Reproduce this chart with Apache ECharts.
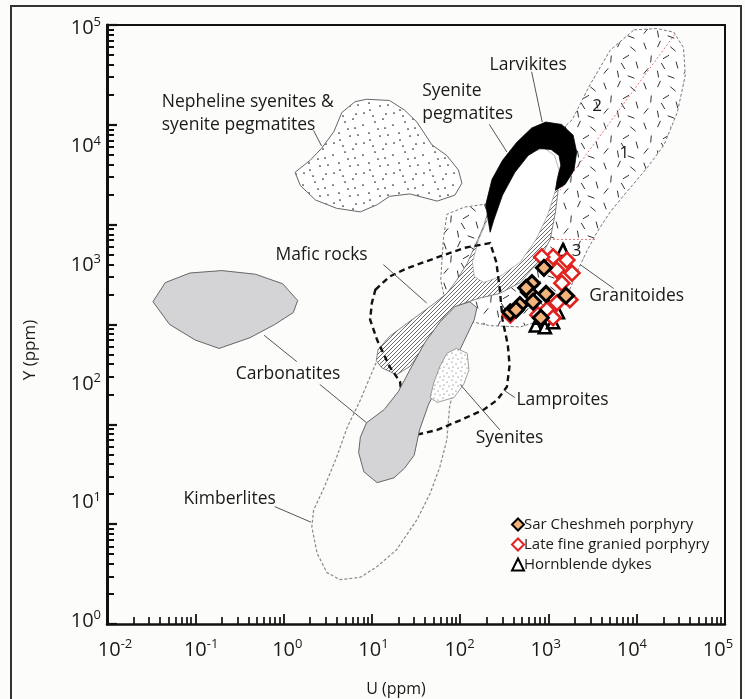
<!DOCTYPE html>
<html>
<head>
<meta charset="utf-8">
<script src="https://cdn.jsdelivr.net/npm/echarts@6/dist/echarts.min.js"></script>
<style>
  html, body { margin: 0; padding: 0; background: #fcfcfa; }
  #chart { width: 745px; height: 699px; }
</style>
</head>
<body>
<div id="chart"></div>
<script>
// ---- Sample data (U ppm, Y ppm) ----
const sarCheshmehU = [890, 650, 600, 940, 475, 670, 370, 1580, 820, 430, 560];
const sarCheshmehY = [940, 700, 590, 570, 460, 490, 400, 550, 360, 420, 640];
const lateFineU = [1130, 1620, 1250, 1850, 1420, 1250, 960, 1130, 840, 760, 370, 1750];
const lateFineY = [1160, 1090, 900, 850, 700, 480, 420, 360, 1160, 380, 380, 510];
const hornblendeU = [1460, 720, 910, 1130, 800, 1280, 990];
const hornblendeY = [1320, 310, 300, 330, 360, 400, 460];

// ---- Axis tick exponents and minor tick multipliers ----
const xExponents = [-2, -1, 0, 1, 2, 3, 4, 5];
const yExponents = [0, 1, 2, 3, 4, 5];
const yTickExponents = [0, 1, 2, 3, 4, 5, 6];
const minorMultipliers = [2, 3, 4, 5, 6, 7, 8, 9];

// ---- Reference fields, vertices as [log10 U, log10 Y] ----
const granitoidField = [[3.97,4.96],[4.23,4.97],[4.42,4.94],[4.53,4.81],[4.55,4.58],[4.46,4.27],[4.31,4.00],[4.12,3.81],[3.89,3.61],[3.70,3.44],[3.55,3.27],[3.44,3.12],[3.33,2.95],[3.19,2.70],[2.99,2.55],[2.68,2.48],[2.34,2.49],[2.02,2.54],[1.84,2.66],[1.78,2.87],[1.81,3.21],[1.85,3.42],[2.05,3.48],[2.34,3.51],[2.68,3.79],[3.02,4.04],[3.27,4.21],[3.47,4.50],[3.70,4.79]];
const granitoidDivide12 = [[4.43,4.92],[3.13,3.62]];
const granitoidDivide3 = [[2.87,3.21],[3.55,3.21]];
const kimberlites = [[1.07,2.22],[0.87,1.87],[0.72,1.64],[0.60,1.39],[0.46,1.14],[0.34,0.95],[0.32,0.81],[0.38,0.59],[0.49,0.43],[0.64,0.37],[0.87,0.39],[1.06,0.48],[1.28,0.62],[1.51,0.87],[1.66,1.09],[1.77,1.31],[1.85,1.54],[1.88,1.81],[1.93,1.98],[1.77,2.19],[1.43,2.22]];
const syenitePegmatites = [[2.34,3.50],[2.27,3.33],[2.20,3.21],[2.08,3.01],[1.96,2.87],[1.85,2.76],[1.66,2.65],[1.40,2.51],[1.20,2.40],[1.07,2.29],[1.05,2.20],[1.11,2.14],[1.28,2.08],[1.43,2.15],[1.51,2.23],[1.66,2.40],[1.79,2.54],[1.91,2.62],[2.05,2.68],[2.22,2.72],[2.45,2.76],[2.68,2.85],[2.88,3.02],[3.02,3.21],[3.08,3.44],[3.11,3.62],[2.96,3.96],[2.56,3.83]];
const pegmatiteCore = [[2.96,3.97],[3.07,3.91],[3.12,3.79],[3.08,3.62],[2.99,3.41],[2.86,3.21],[2.68,3.02],[2.45,2.90],[2.27,2.85],[2.16,2.90],[2.14,3.02],[2.21,3.21],[2.33,3.41],[2.45,3.62],[2.62,3.83],[2.79,3.94]];
const larvikites = [[2.34,3.27],[2.29,3.50],[2.36,3.71],[2.48,3.87],[2.64,4.02],[2.81,4.14],[2.97,4.19],[3.15,4.17],[3.28,4.08],[3.32,3.94],[3.29,3.79],[3.19,3.67],[3.08,3.62],[3.10,3.71],[3.14,3.83],[3.12,3.91],[3.03,3.96],[2.90,3.97],[2.77,3.91],[2.62,3.77],[2.48,3.58],[2.38,3.37]];
const lamproites = [[1.04,2.79],[1.20,2.90],[1.40,2.97],[1.74,3.06],[2.05,3.14],[2.34,3.18],[2.41,3.02],[2.45,2.79],[2.48,2.54],[2.54,2.33],[2.56,2.16],[2.53,1.98],[2.42,1.87],[2.27,1.79],[2.00,1.70],[1.74,1.62],[1.51,1.58],[1.37,1.66],[1.32,2.02],[1.20,2.15],[1.06,2.37],[0.98,2.54],[1.00,2.68]];
const nephelineSyenites = [[0.94,4.38],[1.20,4.37],[1.37,4.29],[1.51,4.19],[1.68,4.00],[1.85,3.91],[1.98,3.79],[2.02,3.68],[1.94,3.58],[1.74,3.53],[1.43,3.59],[1.20,3.57],[1.06,3.50],[0.87,3.44],[0.60,3.47],[0.36,3.54],[0.19,3.66],[0.13,3.77],[0.30,3.87],[0.43,3.97],[0.57,4.11],[0.66,4.27],[0.81,4.36]];
const carbonatiteLens = [[-1.48,2.69],[-1.34,2.85],[-1.06,2.93],[-0.70,2.95],[-0.32,2.92],[-0.01,2.84],[0.16,2.70],[0.11,2.60],[-0.10,2.50],[-0.38,2.39],[-0.73,2.30],[-1.00,2.37],[-1.29,2.50]];
const carbonatiteBody = [[2.11,2.69],[2.19,2.64],[2.16,2.54],[2.05,2.37],[1.94,2.20],[1.77,2.02],[1.64,1.83],[1.54,1.62],[1.48,1.41],[1.37,1.30],[1.25,1.22],[1.06,1.18],[0.91,1.27],[0.85,1.43],[0.87,1.56],[0.94,1.68],[1.14,1.79],[1.30,1.94],[1.43,2.12],[1.60,2.35],[1.77,2.52],[1.94,2.65]];
const syenites = [[1.96,2.30],[2.08,2.26],[2.10,2.12],[2.04,2.00],[1.93,1.89],[1.74,1.85],[1.66,1.89],[1.70,2.01],[1.77,2.15],[1.85,2.26]];

// ---- Field names and leader lines, anchored at [log10 U, log10 Y] ----
const fieldLabels = [
  { text: 'Nepheline syenites &\nsyenite pegmatites', at: [-1.38, 4.26], align: 'left' },
  { text: 'Syenite\npegmatites', at: [1.57, 4.35], align: 'left' },
  { text: 'Larvikites', at: [2.77, 4.67], align: 'center' },
  { text: 'Mafic rocks', at: [0.43, 3.08], align: 'center' },
  { text: 'Carbonatites', at: [0.05, 2.09], align: 'center' },
  { text: 'Granitoides', at: [4.00, 2.74], align: 'center' },
  { text: 'Lamproites', at: [3.16, 1.87], align: 'center' },
  { text: 'Syenites', at: [2.56, 1.55], align: 'center' },
  { text: 'Kimberlites', at: [-0.61, 1.04], align: 'center' }
];
const fieldNumbers = [
  { text: '1', at: [3.86, 3.93] },
  { text: '2', at: [3.55, 4.32] },
  { text: '3', at: [3.32, 3.11] }
];
const leaderLines = [
  [[0.34, 4.12], [0.43, 3.99]],
  [[2.33, 4.17], [2.53, 3.94]],
  [[2.81, 4.61], [2.93, 4.19]],
  [[1.13, 3.00], [1.62, 2.68]],
  [[-0.22, 2.41], [0.15, 2.19]],
  [[0.41, 2.00], [0.94, 1.68]],
  [[3.36, 3.00], [3.74, 2.80]],
  [[2.50, 1.95], [2.62, 1.89]],
  [[2.00, 2.00], [2.45, 1.62]],
  [[-0.10, 0.98], [0.31, 0.85]]
];

const FONT = "'Open Sans', 'DejaVu Sans', sans-serif";
const INK = '#1a1a1a';

// ---- Fill textures ----
function tile(w, h, draw) {
  const c = document.createElement('canvas');
  c.width = w; c.height = h;
  const ctx = c.getContext('2d');
  draw(ctx);
  return { image: c, repeat: 'repeat' };
}
const hatchFill = tile(4, 4, ctx => {
  ctx.fillStyle = '#ffffff'; ctx.fillRect(0, 0, 4, 4);
  ctx.strokeStyle = '#444'; ctx.lineWidth = 0.8;
  ctx.beginPath();
  ctx.moveTo(-1, 5); ctx.lineTo(5, -1);
  ctx.moveTo(-1, 1); ctx.lineTo(1, -1);
  ctx.moveTo(3, 5); ctx.lineTo(5, 3);
  ctx.stroke();
});
const dotFill = tile(30, 30, ctx => {
  ctx.fillStyle = '#ffffff'; ctx.fillRect(0, 0, 30, 30);
  ctx.fillStyle = '#222';
  [[3,5],[15,2],[25,8],[9,13],[20,16],[4,23],[13,26],[26,24],[18,9],[10,20],[23,29],[28,15]].forEach(p => {
    ctx.beginPath(); ctx.arc(p[0], p[1], 0.85, 0, Math.PI * 2); ctx.fill();
  });
});
const fineDotFill = tile(9, 9, ctx => {
  ctx.fillStyle = '#ffffff'; ctx.fillRect(0, 0, 9, 9);
  ctx.fillStyle = '#555';
  [[2,2],[6,4],[3,7],[8,8]].forEach(p => {
    ctx.beginPath(); ctx.arc(p[0], p[1], 0.6, 0, Math.PI * 2); ctx.fill();
  });
});
const dashFill = tile(40, 40, ctx => {
  ctx.fillStyle = '#ffffff'; ctx.fillRect(0, 0, 40, 40);
  ctx.strokeStyle = '#333'; ctx.lineWidth = 1;
  [[5,6,70],[19,4,115],[33,9,40],[11,19,95],[26,17,150],[37,25,75],[6,31,130],[18,34,80],[31,37,20],[23,26,60]].forEach(d => {
    const a = d[2] * Math.PI / 180, dx = Math.cos(a) * 3.5, dy = Math.sin(a) * 3.5;
    ctx.beginPath(); ctx.moveTo(d[0] - dx, d[1] - dy); ctx.lineTo(d[0] + dx, d[1] + dy); ctx.stroke();
  });
});

function toValue(p) { return [Math.pow(10, p[0]), Math.pow(10, p[1])]; }

function fieldSeries(verts, style, closed) {
  return {
    type: 'custom',
    coordinateSystem: 'cartesian2d',
    xAxisIndex: 0, yAxisIndex: 0,
    clip: true, silent: true,
    data: [[1, 1]],
    renderItem: function (params, api) {
      const pts = verts.map(v => api.coord(toValue(v)));
      return {
        type: closed === false ? 'polyline' : 'polygon',
        shape: { points: pts },
        style: style
      };
    }
  };
}

// Minor tick positions: 2..9 within every decade
function minorValues(exps) {
  const out = [];
  exps.slice(0, -1).forEach(e => minorMultipliers.forEach(m => out.push(m * Math.pow(10, e))));
  return out;
}

const annotationSeries = {
  type: 'custom',
  coordinateSystem: 'cartesian2d',
  xAxisIndex: 0, yAxisIndex: 0,
  silent: true,
  data: [[1, 1]],
  renderItem: function (params, api) {
    const children = [];
    leaderLines.forEach(l => {
      const a = api.coord(toValue(l[0])), b = api.coord(toValue(l[1]));
      children.push({ type: 'line', shape: { x1: a[0], y1: a[1], x2: b[0], y2: b[1] },
        style: { stroke: '#555', lineWidth: 1 } });
    });
    fieldLabels.forEach(t => {
      const p = api.coord(toValue(t.at));
      children.push({ type: 'text', x: p[0], y: p[1],
        style: { text: t.text, fill: INK, font: '17.5px ' + FONT, align: t.align,
                 verticalAlign: 'middle', lineHeight: 23 } });
    });
    fieldNumbers.forEach(t => {
      const p = api.coord(toValue(t.at));
      children.push({ type: 'text', x: p[0], y: p[1],
        style: { text: t.text, fill: INK, font: '17px ' + FONT, align: 'center', verticalAlign: 'middle' } });
    });
    return { type: 'group', children: children };
  }
};

function pairs(us, ys) { return us.map((u, i) => [u, ys[i]]); }

function expLabel(v) {
  const e = Math.round(Math.log10(v));
  return '{b|10}{s|' + e + '}';
}
const richExp = {
  b: { fontSize: 20, fontFamily: FONT, color: INK, lineHeight: 24 },
  s: { fontSize: 13, fontFamily: FONT, color: INK, verticalAlign: 'top', lineHeight: 13 }
};

const hidden = { axisLine: { show: false }, axisLabel: { show: false }, splitLine: { show: false } };
const xMin = Math.pow(10, xExponents[0]), xMax = Math.pow(10, xExponents[xExponents.length - 1]);
const yMin = Math.pow(10, yExponents[0]), yMax = Math.pow(10, yExponents[yExponents.length - 1]);
const yTickMin = Math.pow(10, yTickExponents[0]), yTickMax = Math.pow(10, yTickExponents[yTickExponents.length - 1]);

const chart = echarts.init(document.getElementById('chart'), null, { renderer: 'canvas' });
chart.setOption({
  animation: false,
  backgroundColor: '#fcfcfa',
  grid: [
    { left: 107, right: 20, top: 25, bottom: 75 },
    { left: 115, right: 27, top: 28, bottom: 78 }
  ],
  xAxis: [
    { gridIndex: 0, type: 'log', logBase: 10, min: xMin, max: xMax, position: 'bottom',
      axisLine: { show: true, lineStyle: { color: '#111', width: 2.5 } },
      axisTick: { show: true, inside: true, length: 10, lineStyle: { color: '#111', width: 1.8 } },
      axisLabel: { show: false }, splitLine: { show: false } },
    { gridIndex: 0, type: 'log', logBase: 10, min: xMin, max: xMax, position: 'top',
      axisLine: { show: true, lineStyle: { color: '#111', width: 2 } },
      axisTick: { show: false }, axisLabel: { show: false }, splitLine: { show: false } },
    { gridIndex: 1, type: 'log', logBase: 10, min: xMin, max: xMax, position: 'bottom',
      axisLine: { show: false }, axisTick: { show: false }, splitLine: { show: false },
      axisLabel: { show: true, margin: 17, formatter: expLabel, rich: richExp, showMinLabel: true, showMaxLabel: true, interval: 0 } },
    Object.assign({ gridIndex: 0, type: 'log', logBase: 10, min: xMin, max: xMax, position: 'bottom',
      axisTick: { show: true, inside: true, length: 7, customValues: minorValues(xExponents),
                  lineStyle: { color: '#111', width: 1.7 } } }, hidden)
  ],
  yAxis: [
    { gridIndex: 0, type: 'log', logBase: 10, min: yMin, max: yMax, position: 'left',
      axisLine: { show: true, lineStyle: { color: '#111', width: 3 } },
      axisTick: { show: false }, axisLabel: { show: false }, splitLine: { show: false } },
    Object.assign({ gridIndex: 0, type: 'log', logBase: 10, min: yTickMin, max: yTickMax, position: 'left',
      axisTick: { show: true, inside: true, length: 10, lineStyle: { color: '#111', width: 2.2 } } }, hidden),
    { gridIndex: 0, type: 'log', logBase: 10, min: yMin, max: yMax, position: 'right',
      axisLine: { show: true, lineStyle: { color: '#111', width: 2 } },
      axisTick: { show: false }, axisLabel: { show: false }, splitLine: { show: false } },
    { gridIndex: 1, type: 'log', logBase: 10, min: yMin, max: yMax, position: 'left',
      axisLine: { show: false }, axisTick: { show: false }, splitLine: { show: false },
      axisLabel: { show: true, margin: 14, formatter: expLabel, rich: richExp, showMinLabel: true, showMaxLabel: true, interval: 0 } },
    Object.assign({ gridIndex: 0, type: 'log', logBase: 10, min: yTickMin, max: yTickMax, position: 'left',
      axisTick: { show: true, inside: true, length: 7, customValues: minorValues(yTickExponents),
                  lineStyle: { color: '#111', width: 2 } } }, hidden)
  ],
  legend: {
    data: ['Sar Cheshmeh porphyry', 'Late fine granied porphyry', 'Hornblende dykes'],
    orient: 'vertical', left: 506, top: 512,
    itemWidth: 12, itemHeight: 12, itemGap: 5,
    textStyle: { fontSize: 15, fontFamily: FONT, color: INK, padding: [0, 0, 0, -5] }
  },
  graphic: [
    { type: 'rect', shape: { x: 11, y: 6, width: 730, height: 720 }, style: { fill: 'none', stroke: '#333', lineWidth: 2 }, silent: true },
    { type: 'text', x: 30, y: 350, rotation: Math.PI / 2,
      style: { text: 'Y (ppm)', font: '17px ' + FONT, fill: INK, align: 'center', verticalAlign: 'middle' } },
    { type: 'text', x: 396, y: 689,
      style: { text: 'U (ppm)', font: '16px ' + FONT, fill: INK, align: 'center', verticalAlign: 'middle' } }
  ],
  series: [
    fieldSeries(granitoidField, { fill: dashFill, stroke: '#777', lineWidth: 1, lineDash: [3, 2] }),
    fieldSeries(granitoidDivide12, { fill: 'none', stroke: '#d77', lineWidth: 1, lineDash: [2, 2] }, false),
    fieldSeries(granitoidDivide3, { fill: 'none', stroke: '#d77', lineWidth: 1, lineDash: [2, 2] }, false),
    fieldSeries(kimberlites, { fill: 'none', stroke: '#888', lineWidth: 1.2, lineDash: [3, 2] }),
    fieldSeries(syenitePegmatites, { fill: hatchFill, stroke: '#666', lineWidth: 0.8 }),
    fieldSeries(pegmatiteCore, { fill: '#ffffff', stroke: '#888', lineWidth: 0.6 }),
    fieldSeries(larvikites, { fill: '#000000', stroke: '#000', lineWidth: 0.8 }),
    fieldSeries(lamproites, { fill: 'none', stroke: '#111', lineWidth: 2.4, lineDash: [6, 4] }),
    fieldSeries(nephelineSyenites, { fill: dotFill, stroke: '#666', lineWidth: 1 }),
    fieldSeries(carbonatiteLens, { fill: '#d4d4d7', stroke: '#666', lineWidth: 1 }),
    fieldSeries(carbonatiteBody, { fill: '#d4d4d7', stroke: '#666', lineWidth: 1 }),
    fieldSeries(syenites, { fill: fineDotFill, stroke: '#888', lineWidth: 0.8 }),
    annotationSeries,
    { name: 'Hornblende dykes', type: 'scatter', xAxisIndex: 0, yAxisIndex: 0,
      symbol: 'triangle', symbolSize: 12,
      itemStyle: { color: '#ffffff', borderColor: '#000', borderWidth: 2.6, opacity: 1 },
      data: pairs(hornblendeU, hornblendeY) },
    { name: 'Late fine granied porphyry', type: 'scatter', xAxisIndex: 0, yAxisIndex: 0,
      symbol: 'diamond', symbolSize: 15,
      itemStyle: { color: '#ffffff', borderColor: '#e0231f', borderWidth: 2.6, opacity: 1 },
      data: pairs(lateFineU, lateFineY) },
    { name: 'Sar Cheshmeh porphyry', type: 'scatter', xAxisIndex: 0, yAxisIndex: 0,
      symbol: 'diamond', symbolSize: 15,
      itemStyle: { color: '#f2b37a', borderColor: '#000', borderWidth: 3, opacity: 1 },
      data: pairs(sarCheshmehU, sarCheshmehY) }
  ]
});
</script>
</body>
</html>
